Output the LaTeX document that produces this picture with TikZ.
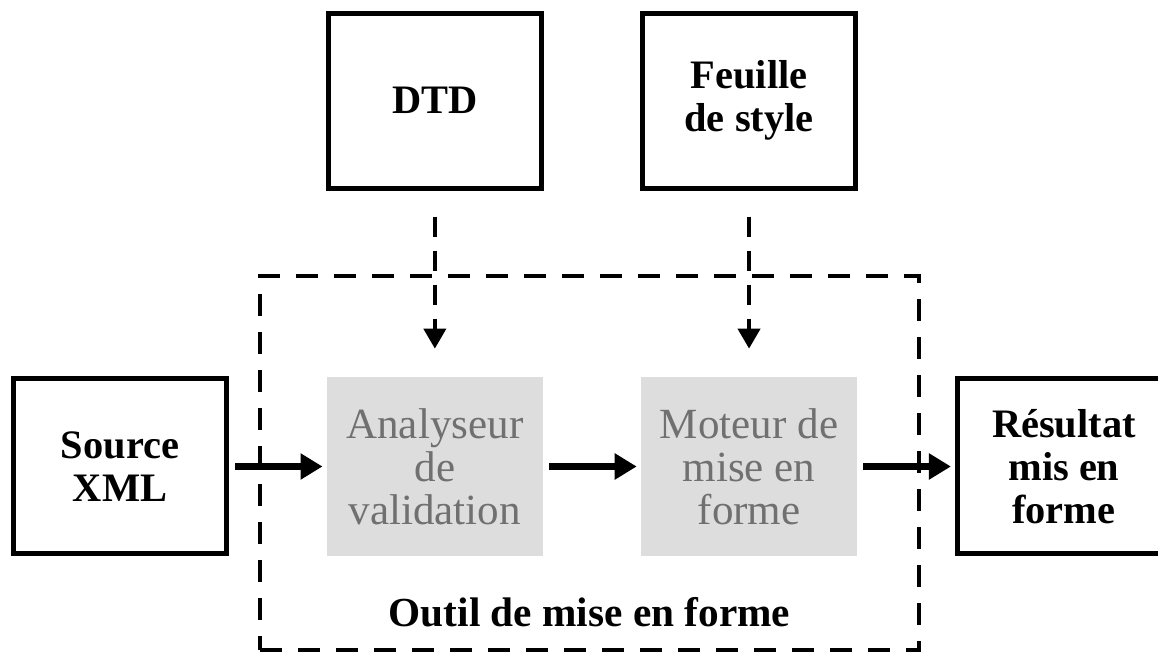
\documentclass[tikz,border=0pt]{standalone}
\usepackage{fontspec}
\setmainfont{Liberation Serif}
\usetikzlibrary{positioning, arrows.meta}
\definecolor{cProcFill}{HTML}{DDDDDD}
\definecolor{cProcText}{HTML}{707070}

\begin{document}
\begin{tikzpicture}[
  node distance=1.95cm,
  docbox/.style={
    draw=black, line width=0.1cm, fill=white,
    minimum width=4.26cm, minimum height=3.5cm,
    align=center, font=\fontsize{23}{24.5}\selectfont\bfseries
  },
  procbox/.style={
    fill=cProcFill, minimum width=4.32cm, minimum height=3.58cm,
    align=center, text=cProcText, font=\fontsize{24.5}{24.5}\selectfont
  },
  flowarrow/.style={
    line width=0.14cm, -{Triangle[length=0.44cm, width=0.5cm]},
    shorten <=0.12cm, shorten >=0.08cm
  },
  feedarrow/.style={
    line width=0.08cm, dash pattern=on 0.4cm off 0.28cm,
    -{Triangle[length=0.4cm, width=0.44cm]},
    shorten <=0.52cm, shorten >=0.56cm
  },
  toolframe/.style={
    draw, line width=0.07cm, dash pattern=on 0.44cm off 0.32cm,
    minimum width=13.18cm, minimum height=7.48cm
  },
  toollabel/.style={
    font=\fontsize{23.5}{24.5}\selectfont\bfseries
  },
]
\path[use as bounding box, clip] (0,0) rectangle (23.16,13.08);

% tool frame
\node[toolframe] (tool) at (11.79,3.82) {};
\node[toollabel, anchor=base] (toolname) at ([yshift=0.5cm]tool.south)
  {Outil de mise en forme};

% processing chain
\node[docbox] (src) at (2.40,3.75) {Source\\XML};
\node[procbox, right=of src] (ana) {Analyseur\\de\\validation};
\node[procbox, right=of ana] (mot) {Moteur de\\mise en\\forme};
\node[docbox, right=of mot] (res) {Résultat\\mis en\\forme};

% inputs
\node[docbox, above=3.72cm of ana] (dtd) {DTD};
\node[docbox, above=3.72cm of mot] (xsl) {Feuille\\de style};

% connectors
\draw[flowarrow] (src) -- (ana);
\draw[flowarrow] (ana) -- (mot);
\draw[flowarrow] (mot) -- (res);
\draw[feedarrow] (dtd) -- (ana);
\draw[feedarrow] (xsl) -- (mot);

\end{tikzpicture}
\end{document}
